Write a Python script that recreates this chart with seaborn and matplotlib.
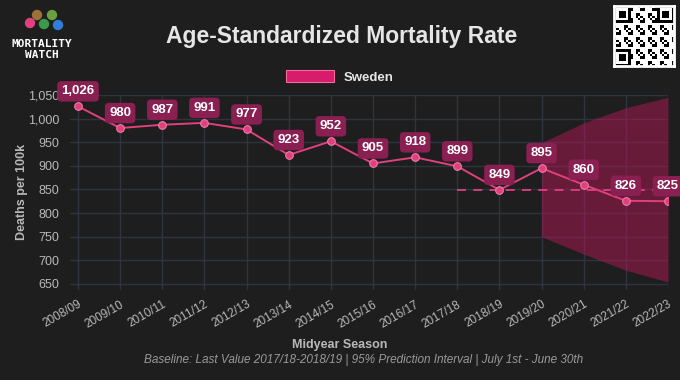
import numpy as np
import pandas as pd
import matplotlib
matplotlib.use('Agg')
import matplotlib.pyplot as plt
import matplotlib.ticker as mticker
from matplotlib.patches import Patch, Circle
import seaborn as sns

# data
seasons = ['2008/09', '2009/10', '2010/11', '2011/12', '2012/13', '2013/14', '2014/15',
           '2015/16', '2016/17', '2017/18', '2018/19', '2019/20', '2020/21', '2021/22', '2022/23']
asmr = [1026, 980, 987, 991, 977, 923, 952, 905, 918, 899, 849, 895, 860, 826, 825]
baseline_seasons = ['2017/18', '2018/19', '2019/20', '2020/21', '2021/22', '2022/23']
baseline_value = [849, 849, 849, 849, 849, 849]
pi_seasons = ['2019/20', '2020/21', '2021/22', '2022/23']
pi_lower = [750, 713, 679, 654]
pi_upper = [949, 991, 1023, 1045]
yticks = [650, 700, 750, 800, 850, 900, 950, 1000, 1050]

BG = '#1e1e1e'
PINK = '#e0407e'
BOX = '#8a1f52'
GRID = '#2e3340'
TXT = '#b8b8b8'

df = pd.DataFrame({'season': seasons, 'asmr': asmr})
df['x'] = range(len(seasons))
pos = {s: i for i, s in enumerate(seasons)}
bx = [pos[s] for s in baseline_seasons]
px = [pos[s] for s in pi_seasons]

sns.set_style('dark')
plt.rcParams['font.family'] = ['Liberation Sans', 'DejaVu Sans']

fig = plt.figure(figsize=(6.8, 3.8), dpi=100, facecolor=BG)
ax = fig.add_axes([70/680, 1-290/380, 598/680, 195/380])
ax.set_facecolor(BG)

ax.fill_between(px, pi_lower, pi_upper, color='#c2185b', alpha=0.45, lw=0, zorder=1)
ax.plot(bx, baseline_value, color=PINK, lw=1.3, ls=(0, (5, 4)), zorder=2)
sns.lineplot(data=df, x='x', y='asmr', ax=ax, color=PINK, lw=1.4, marker='o',
             markersize=5.5, markerfacecolor=PINK, markeredgecolor='#f27aa6',
             markeredgewidth=0.8, zorder=3)

for xi, v in zip(df['x'], df['asmr']):
    ax.annotate(f'{v:,}', (xi, v), xytext=(0, 15), textcoords='offset pixels',
                ha='center', va='center', color='white', fontsize=9.5, fontweight='bold',
                bbox=dict(boxstyle='round,pad=0.32,rounding_size=0.3', fc=BOX, ec='none'),
                zorder=5, annotation_clip=False)

ax.set_xlim(-0.19, 14)
ax.set_ylim(637, 1050)
ax.set_xticks(df['x'])
ax.set_xticklabels(seasons, rotation=30, ha='right', rotation_mode='anchor')
ax.set_yticks(yticks)
ax.yaxis.set_major_formatter(mticker.FuncFormatter(lambda v, p: f'{int(v):,}'))
ax.tick_params(colors=TXT, labelsize=9, length=4, color=GRID)
ax.tick_params(axis='x', pad=2, labelsize=8.5)
ax.grid(True, color=GRID, lw=1)
for s in ax.spines.values():
    s.set_visible(False)
ax.set_xlabel('')
ax.set_ylabel('')

fig.text(0.5, 1-345/380, 'Midyear Season', ha='center', va='center',
         color=TXT, fontsize=9, fontweight='bold')
fig.text(22/680, 1-192/380, 'Deaths per 100k', ha='center', va='center', rotation=90,
         color=TXT, fontsize=9, fontweight='bold')
fig.text(0.502, 0.903, 'Age-Standardized Mortality Rate', ha='center', va='center',
         color='#e6e6e6', fontsize=16.5, fontweight='bold')
fig.legend(handles=[Patch(fc='#d81b6a', ec='#f06a9c', lw=0.8, label='Sweden')],
           loc='center', bbox_to_anchor=(0.5, 0.797), frameon=False,
           handlelength=3.6, handleheight=1.0, labelcolor='#e6e6e6',
           prop={'weight': 'bold', 'size': 9.5})
fig.text(0.535, 1-360/380,
         'Baseline: Last Value 2017/18-2018/19 | 95% Prediction Interval | July 1st - June 30th',
         ha='center', va='center', color='#9a9a9a', fontsize=8.5, style='italic')

# logo
lax = fig.add_axes([0, 1-70/380, 80/680, 70/380])
lax.set_xlim(0, 80)
lax.set_ylim(70, 0)
lax.axis('off')
for cx, cy, c in [(30, 23, '#e0407e'), (37, 15, '#a0703a'), (44, 24, '#3a9a4a'),
                  (52, 15, '#6aa040'), (58, 25, '#2f7fd8')]:
    lax.add_patch(Circle((cx, cy), 4.5, color=c))
lax.text(42, 44, 'MORTALITY', ha='center', va='center', color='white',
         fontsize=8, fontweight='bold', family='DejaVu Sans Mono')
lax.text(42, 55, 'WATCH', ha='center', va='center', color='white',
         fontsize=8, fontweight='bold', family='DejaVu Sans Mono')

# qr code decoration
n = 25
ii, jj = np.mgrid[0:n, 0:n]
qr = ((ii * 7 + jj * 3 + ii * jj) % 5 < 2).astype(float)
for (r, c) in [(0, 0), (0, n-7), (n-7, 0)]:
    qr[r:r+7, c:c+7] = 0
    qr[r:r+7, c] = 1; qr[r:r+7, c+6] = 1; qr[r, c:c+7] = 1; qr[r+6, c:c+7] = 1
    qr[r+2:r+5, c+2:c+5] = 1
qax = fig.add_axes([614/680, 1-66/380, 60/680, 60/380])
qax.imshow(1 - qr, cmap='gray', interpolation='nearest')
qax.set_xticks([]); qax.set_yticks([])
for s in qax.spines.values():
    s.set_color('white'); s.set_linewidth(2)

fig.savefig('out.png', dpi=100, facecolor=BG)
